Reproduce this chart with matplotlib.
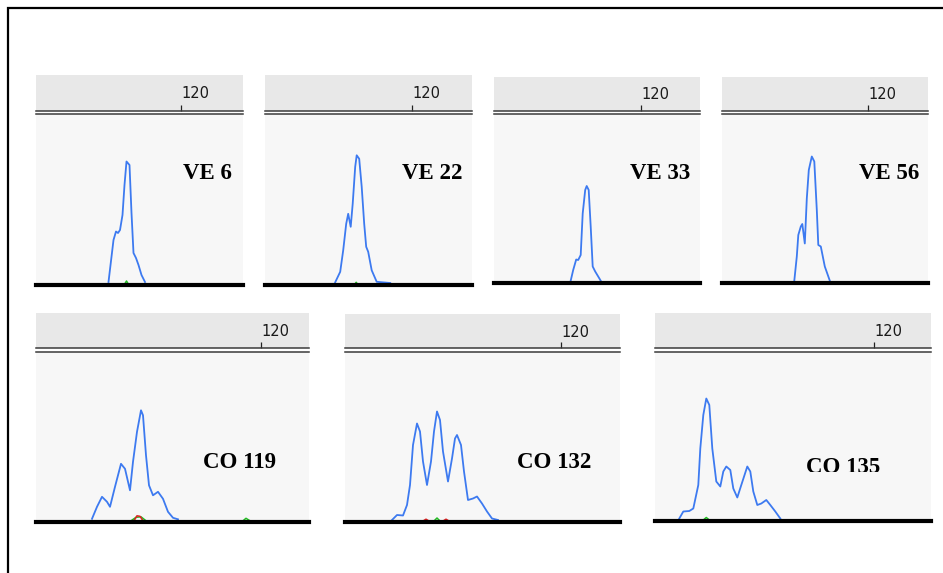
import matplotlib
matplotlib.use("Agg")
import matplotlib.pyplot as plt
from matplotlib.patches import Rectangle

# --- 데이터 (bp, rfu) ---
ve6_bp = [105.5, 106.5, 107.0, 107.4, 107.8, 108.3, 108.7, 109.1, 109.7, 110.1, 110.5, 111.0, 111.5, 112.1, 112.8]
ve6_rfu = [5, 425, 510, 495, 525, 675, 975, 1210, 1175, 695, 295, 245, 175, 75, 5]

ve22_bp = [104.7, 105.7, 106.3, 106.9, 107.3, 107.8, 108.2, 108.7, 109.0, 109.5, 110.0, 110.5, 110.9, 111.3, 112.0, 113.0, 115.7]
ve22_rfu = [10, 115, 330, 595, 695, 565, 795, 1165, 1280, 1245, 965, 595, 365, 315, 130, 15, 3]

ve33_bp = [106.0, 106.5, 107.1, 107.5, 108.0, 108.4, 108.9, 109.2, 109.6, 110.0, 110.4, 110.9, 111.5, 112.0]
ve33_rfu = [3, 110, 215, 210, 260, 675, 910, 950, 910, 545, 145, 95, 45, 3]

ve56_bp = [105.2, 105.7, 106.0, 106.5, 106.8, 107.3, 107.7, 108.1, 108.7, 109.2, 109.7, 110.0, 110.5, 111.3, 112.3]
ve56_rfu = [3, 245, 460, 545, 570, 375, 825, 1110, 1245, 1195, 710, 360, 345, 145, 3]

co119_bp = [103.1, 103.6, 104.1, 104.6, 104.9, 105.4, 106.0, 106.4, 106.9, 107.2, 107.6, 108.0, 108.2, 108.5, 108.8, 109.2, 109.7, 110.2, 110.7, 111.2, 111.7]
co119_rfu = [10, 130, 230, 180, 130, 330, 560, 510, 295, 580, 880, 1095, 1045, 645, 345, 245, 280, 210, 80, 20, 5]

co132_bp = [103.1, 103.6, 104.2, 104.6, 104.9, 105.2, 105.6, 105.9, 106.2, 106.6, 107.0, 107.3, 107.6, 107.9, 108.2, 108.7,
            109.1, 109.4, 109.6, 110.0, 110.3, 110.7, 111.2, 111.6, 112.1, 112.6, 113.1, 113.7]
co132_rfu = [0, 50, 45, 150, 350, 750, 965, 885, 585, 350, 585, 885, 1085, 1000, 685, 385,
             615, 815, 850, 750, 485, 200, 215, 235, 165, 85, 15, 0]

co135_bp = [100.5, 100.9, 101.5, 101.9, 102.4, 102.6, 102.9, 103.2, 103.5, 103.8, 104.2, 104.6, 104.9, 105.2,
            105.6, 105.9, 106.3, 106.7, 107.3, 107.6, 107.9, 108.3, 108.7, 109.2, 109.6, 110.1, 110.6]
co135_rfu = [5, 75, 80, 105, 340, 705, 1040, 1205, 1140, 705, 375, 325, 475, 525,
             490, 305, 215, 340, 525, 475, 275, 140, 155, 190, 140, 75, 5]

# 기저선 잡음 (녹색/적색)
green_noise = {
    "VE 6": ([108.8, 109.1, 109.4], [-10, 15, -10]),
    "VE 22": ([108.6, 108.9, 109.2], [-10, 10, -10]),
    "CO 119": ([107.0, 107.5, 108.0, 108.5, 118.2, 118.5, 118.9], [-10, 25, 30, -10, -10, 15, -10]),
    "CO 132": ([107.3, 107.6, 107.9], [-10, 20, -10]),
    "CO 135": ([102.9, 103.2, 103.5], [-10, 15, -10]),
}
red_noise = {
    "CO 119": ([107.3, 107.6, 107.9, 108.2], [-10, 40, 35, -10]),
    "CO 132": ([106.2, 106.5, 106.8, 108.2, 108.5, 108.8], [-10, 8, -10, -10, 8, -10]),
}

labels = ["VE 6", "VE 22", "VE 33", "VE 56", "CO 119", "CO 132", "CO 135"]
traces = [(ve6_bp, ve6_rfu), (ve22_bp, ve22_rfu), (ve33_bp, ve33_rfu), (ve56_bp, ve56_rfu),
          (co119_bp, co119_rfu), (co132_bp, co132_rfu), (co135_bp, co135_rfu)]

# --- 레이아웃 (픽셀) ---
W, H = 943, 573
# left, right, tick_px, baseline_px, header_top, line1, line2, px_per_bp, text_right, text_base
layout = [
    (36, 243, 181.0, 284.5, 75.0, 110.7, 113.7, 5, 232, 179.3),
    (265, 472, 411.7, 285.3, 75.0, 110.7, 113.7, 5, 462, 179.3),
    (494, 700, 640.7, 283.0, 76.7, 110.7, 113.7, 5, 690, 179.3),
    (722, 928, 868.3, 283.0, 76.7, 110.7, 113.7, 5, 919, 179.3),
    (36, 309, 261.0, 521.8, 313.0, 348.0, 351.5, 10, 276, 467.5),
    (345, 620, 561.0, 522.0, 314.0, 348.0, 351.5, 10, 591.5, 468.0),
    (655, 931, 874.3, 521.0, 313.0, 348.0, 351.5, 10, 880.5, 473.0),
]

BLUE = "#3d7af0"
fig = plt.figure(figsize=(W / 100, H / 100), dpi=100)
fig.patch.set_facecolor("white")


def rect(x0, y0, x1, y1):
    return [x0 / W, 1 - y1 / H, (x1 - x0) / W, (y1 - y0) / H]


# 바깥 테두리
fig.add_artist(Rectangle((8 / W, -0.1), 1.2, 1 - 8 / H + 0.1, transform=fig.transFigure,
                         fill=False, edgecolor="black", linewidth=1.6))

for name, (bp, rfu), (l, r, tick, base, htop, ln1, ln2, ppb, tx, ty) in zip(labels, traces, layout):
    x0 = 120 - (tick - l) / ppb
    x1 = 120 + (r - tick) / ppb

    # 상단 눈금 영역
    hax = fig.add_axes(rect(l, htop, r, ln1))
    hax.set_facecolor("#e8e8e8")
    hax.set_xlim(x0, x1)
    hax.set_ylim(0, 1)
    for s in ["top", "left", "right"]:
        hax.spines[s].set_visible(False)
    hax.spines["bottom"].set_color("#3a3a3a")
    hax.spines["bottom"].set_linewidth(1.1)
    hax.set_yticks([])
    hax.set_xticks([120])
    hax.tick_params(axis="x", direction="in", length=4.5, width=0.9, color="#222222",
                    labelbottom=False)
    hax.text(120 + 0.6 / ppb, 0.47, "120", transform=hax.get_xaxis_transform(),
             ha="left", va="center", fontsize=10.5, color="#1a1a1a", family="DejaVu Sans")

    # 신호 영역
    ax = fig.add_axes(rect(l, ln2, r, base))
    ax.set_facecolor("#f7f7f7")
    ax.set_xlim(x0, x1)
    ax.set_ylim(-20, (base - ln2 - 2) * 10)
    for s in ["left", "right"]:
        ax.spines[s].set_visible(False)
    ax.spines["top"].set_color("#3a3a3a")
    ax.spines["top"].set_linewidth(1.1)
    ax.spines["bottom"].set_color("black")
    ax.spines["bottom"].set_linewidth(3.0)
    ax.spines["bottom"].set_zorder(4)
    ax.set_xticks([])
    ax.set_yticks([])

    if name in green_noise:
        gx, gy = green_noise[name]
        ax.plot(gx, gy, color="#22bb22", lw=1.1, zorder=2)
    if name in red_noise:
        rx, ry = red_noise[name]
        ax.plot(rx, ry, color="#dd2222", lw=1.1, zorder=2)
    ax.plot(bp, rfu, color=BLUE, lw=1.3, zorder=3)

    t = fig.text(tx / W, 1 - ty / H, name, ha="right", va="baseline",
                 fontsize=16.5, fontweight="bold", family="Liberation Serif", color="black")
    if name == "CO 135":
        clip = Rectangle((0, 1 - 471.7 / H), 1, 1, transform=fig.transFigure)
        t.set_clip_path(clip)

fig.savefig("out.png", dpi=100, facecolor="white")
